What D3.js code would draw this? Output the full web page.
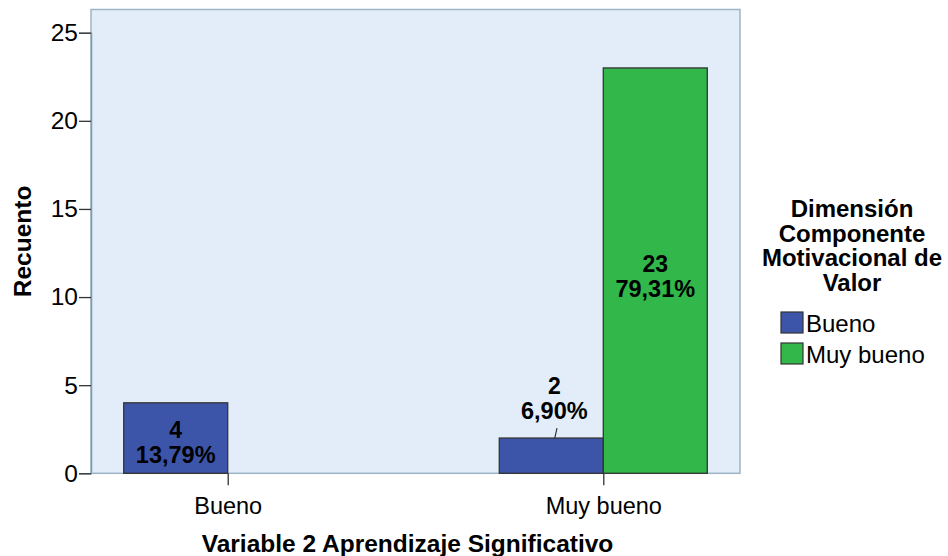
<!DOCTYPE html>
<html><head><meta charset="utf-8">
<script src="https://cdn.jsdelivr.net/npm/d3@7"></script>
<style>body{margin:0;background:#fff}svg{display:block}text{font-family:"Liberation Sans",Arial,sans-serif;fill:#000}</style>
</head><body>
<svg id="c" width="948" height="556"></svg>
<script>
const categories = ["Bueno", "Muy bueno"];
const seriesNames = ["Bueno", "Muy bueno"];
const countsBueno = [4, 2];
const countsMuyBueno = [0, 23];
const pctBueno = ["13,79%", "6,90%"];
const pctMuyBueno = ["", "79,31%"];
const yTicks = [0, 5, 10, 15, 20, 25];
const colors = ["#3d55a8", "#31b74a"];

const svg = d3.select("#c");
const L = 91, R = 740, T = 9.5, B = 473.3;
const y = d3.scaleLinear().domain([0, 25]).range([B, 32.7]);
const x = d3.scalePoint().domain(categories).range([L, R]).padding(0.364);
const sub = d3.scaleBand().domain(seriesNames).range([-104, 104]);

svg.append("rect").attr("x", L).attr("y", T).attr("width", R - L).attr("height", B - T)
  .attr("fill", "#e2edf9").attr("stroke", "#9db5c5").attr("stroke-width", 1.5);

// y axis
const yAx = svg.append("g").attr("transform", `translate(${L},0)`)
  .call(d3.axisLeft(y).tickValues(yTicks).tickSize(12).tickPadding(1).tickFormat(d3.format("d")));
yAx.select(".domain").attr("stroke", "#7f9aab").attr("stroke-width", 1.5);
yAx.selectAll(".tick line").attr("stroke", "#333").attr("stroke-width", 1.3);
yAx.selectAll(".tick text").attr("font-size", "24.5px").attr("fill", "#222")
  .style("font-family", "Liberation Sans, Arial, sans-serif");

// x axis
const xAx = svg.append("g").attr("transform", `translate(0,${B})`)
  .call(d3.axisBottom(x).tickSize(12).tickPadding(12));
xAx.select(".domain").remove();
xAx.selectAll(".tick line").attr("stroke", "#333").attr("stroke-width", 1.3);
xAx.selectAll(".tick text").attr("font-size", "23.5px").attr("fill", "#222")
  .style("font-family", "Liberation Sans, Arial, sans-serif");

const series = [
  {name: seriesNames[0], vals: countsBueno, pct: pctBueno, color: colors[0]},
  {name: seriesNames[1], vals: countsMuyBueno, pct: pctMuyBueno, color: colors[1]}
];

series.forEach(s => {
  categories.forEach((c, i) => {
    const v = s.vals[i];
    if (!v) return;
    const x0 = x(c) + sub(s.name);
    svg.append("rect").attr("x", x0).attr("y", y(v)).attr("width", sub.bandwidth())
      .attr("height", y(0) - y(v)).attr("fill", s.color).attr("stroke", "#333").attr("stroke-width", 1.3);
  });
});

// labels
function label(cx, yb, n, p) {
  svg.append("text").attr("text-anchor", "middle").attr("font-weight", "bold").attr("font-size", "23px")
    .attr("x", cx).attr("y", yb).text(n);
  svg.append("text").attr("text-anchor", "middle").attr("font-weight", "bold").attr("font-size", "23.5px")
    .attr("x", cx).attr("y", yb + 25).text(p);
}
{
  const cx = x(categories[0]) + sub(seriesNames[0]) + sub.bandwidth() / 2;
  label(cx, y(countsBueno[0]) + 35, countsBueno[0], pctBueno[0]);
}
{
  const cx = x(categories[1]) + sub(seriesNames[0]) + sub.bandwidth() / 2;
  const top = y(countsBueno[1]);
  label(cx + 3, top - 44, countsBueno[1], pctBueno[1]);
  svg.append("line").attr("x1", cx + 5.7).attr("y1", top - 10).attr("x2", cx + 3.5).attr("y2", top)
    .attr("stroke", "#333").attr("stroke-width", 1.2);
}
{
  const cx = x(categories[1]) + sub(seriesNames[1]) + sub.bandwidth() / 2;
  label(cx, (y(countsMuyBueno[1]) + y(0)) / 2 + 1, countsMuyBueno[1], pctMuyBueno[1]);
}

// axis titles
svg.append("text").attr("x", (L + R) / 2 - 8).attr("y", 552).attr("text-anchor", "middle")
  .attr("font-weight", "bold").attr("font-size", "24.5px").text("Variable 2 Aprendizaje Significativo");
svg.append("text").attr("transform", `translate(31,${(T + B) / 2})rotate(-90)`).attr("text-anchor", "middle")
  .attr("font-weight", "bold").attr("font-size", "24.5px").text("Recuento");

// legend
const legTitle = ["Dimensión", "Componente", "Motivacional de", "Valor"];
const lt = svg.append("text").attr("text-anchor", "middle").attr("font-weight", "bold").attr("font-size", "24px");
legTitle.forEach((s, i) => lt.append("tspan").attr("x", 852).attr("y", 217 + i * 24.5).text(s));
seriesNames.forEach((s, i) => {
  const yy = 312 + i * 31;
  svg.append("rect").attr("x", 781).attr("y", yy).attr("width", 22).attr("height", 21)
    .attr("fill", colors[i]).attr("stroke", "#333").attr("stroke-width", 1.2);
  svg.append("text").attr("x", 806).attr("y", yy + 20).attr("font-size", "24px").attr("fill", "#222").text(s);
});
</script>
</body></html>
